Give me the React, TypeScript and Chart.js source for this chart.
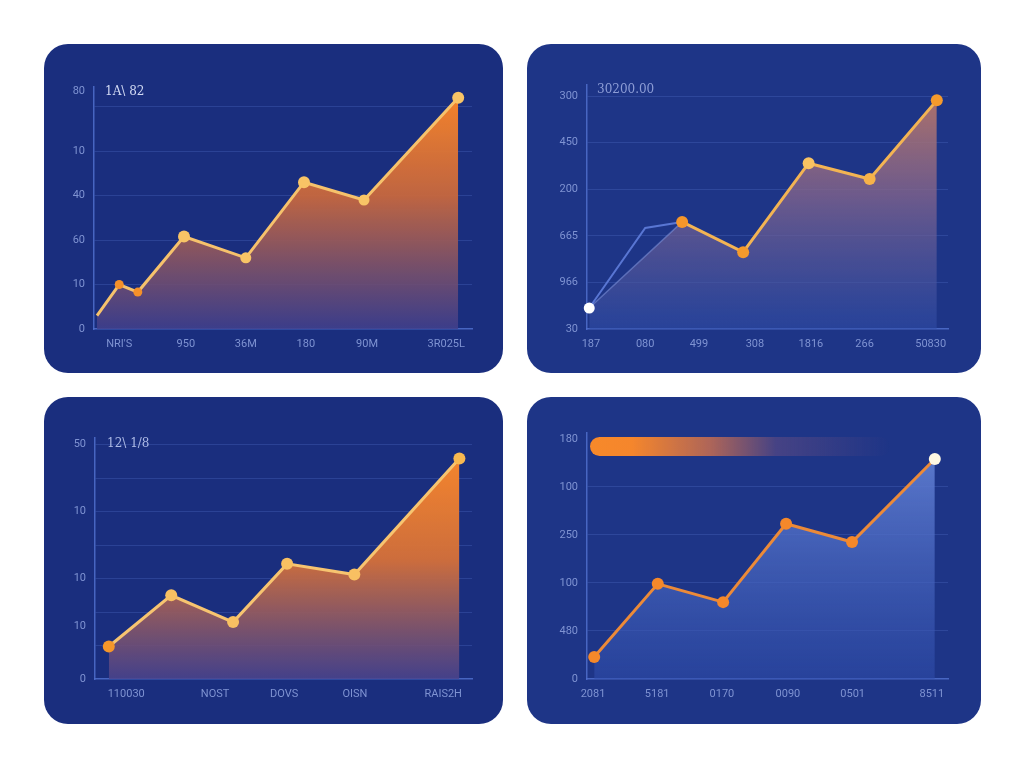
import React, { useEffect, useRef } from "react";
import { Chart, registerables } from "chart.js";

Chart.register(...registerables);

// top-left panel
const p1X = [0.05, 0.42, 0.73, 1.5, 2.53, 3.5, 4.5, 6.07];
const p1Y = [0.3, 1.0, 0.83, 2.08, 1.6, 3.3, 2.9, 5.2];
const p1XTicks = [0.42, 1.53, 2.53, 3.53, 4.55, 5.87];
const p1XLabels = ["NRI'S", "950", "36M", "180", "90M", "3R025L"];
const p1YTicks = [0, 1, 2, 3, 4, 5, 5.35];
const p1YLabels = ["0", "10", "60", "40", "10", "", "80"];
const p1YGrid = [false, true, true, true, true, true, false];

// top-right panel
const p2X = [0.04, 1.7, 2.79, 3.96, 5.05, 6.25];
const p2Y = [0.45, 2.3, 1.65, 3.56, 3.22, 4.91];
const p2BlueX = [0.04, 1.04, 1.7];
const p2BlueY = [0.45, 2.17, 2.3];
const p2XTicks = [0.07, 1.04, 2, 3, 4, 4.96, 6.14];
const p2XLabels = ["187", "080", "499", "308", "1816", "266", "50830"];
const p2YTicks = [0, 1, 2, 3, 4, 5];
const p2YLabels = ["30", "966", "665", "200", "450", "300"];
const p2YGrid = [false, true, true, true, true, true];

// bottom-left panel
const p3X = [0.23, 1.27, 2.3, 3.2, 4.32, 6.07];
const p3Y = [0.97, 2.5, 1.7, 3.44, 3.12, 6.59];
const p3XTicks = [0.52, 2.0, 3.15, 4.33, 5.8];
const p3XLabels = ["110030", "NOST", "DOVS", "OISN", "RAIS2H"];
const p3YTicks = [0, 1, 1.59, 2, 3, 4, 5, 6, 7];
const p3YLabels = ["0", "", "10", "", "10", "", "10", "", "50"];
const p3YGrid = [false, true, false, true, true, true, true, true, true];

// bottom-right panel
const p4X = [0.12, 1.18, 2.27, 3.32, 4.42, 5.8];
const p4Y = [0.46, 1.98, 1.6, 3.23, 2.85, 4.58];
const p4XTicks = [0.1, 1.17, 2.25, 3.35, 4.43, 5.75];
const p4XLabels = ["2081", "5181", "0170", "0090", "0501", "8511"];
const p4YTicks = [0, 1, 2, 3, 4, 5];
const p4YLabels = ["0", "480", "100", "250", "100", "180"];
const p4YGrid = [false, true, true, true, true, false];

const gridColor = "rgba(90,120,210,0.28)";
const axisColor = "rgba(80,110,205,0.85)";
const tickColor = "#7f93d2";

const pts = (xs: number[], ys: number[]) => xs.map((x, i) => ({ x, y: ys[i] }));

const vGradient = (stops: [number, string][]) => (ctx: any) => {
  const chart = ctx.chart;
  const ca = chart.chartArea;
  if (!ca) return "transparent";
  const g = chart.ctx.createLinearGradient(0, ca.top, 0, ca.bottom);
  stops.forEach(([o, c]) => g.addColorStop(o, c));
  return g;
};

type Area = { left: number; top: number; right: number; bottom: number };

type PanelProps = {
  left: number;
  top: number;
  width: number;
  height: number;
  bg: string;
  area: Area;
  xMax: number;
  yMax: number;
  xTicks: number[];
  xLabels: string[];
  yTicks: number[];
  yLabels: string[];
  yGrid: boolean[];
  datasets: any[];
  children?: React.ReactNode;
};

const Panel: React.FC<PanelProps> = (p) => {
  const canvasRef = useRef<HTMLCanvasElement>(null);

  useEffect(() => {
    if (!canvasRef.current) return;
    const chart = new Chart(canvasRef.current, {
      type: "line",
      data: { datasets: p.datasets },
      options: {
        responsive: false,
        animation: false,
        events: [],
        layout: {
          padding: { left: 0, top: p.area.top, right: p.width - p.area.right, bottom: 0 },
        },
        plugins: { legend: { display: false }, tooltip: { enabled: false } },
        scales: {
          x: {
            type: "linear",
            min: 0,
            max: p.xMax,
            afterFit: (s: any) => {
              s.height = p.height - p.area.bottom;
            },
            afterBuildTicks: (s: any) => {
              s.ticks = p.xTicks.map((v) => ({ value: v }));
            },
            grid: { display: false, drawTicks: false },
            border: { display: true, color: axisColor, width: 1.5 },
            ticks: {
              autoSkip: false,
              maxRotation: 0,
              padding: 9,
              color: tickColor,
              font: { family: "Roboto", size: 11 },
              callback: (_v: any, i: number) => p.xLabels[i],
            },
          },
          y: {
            type: "linear",
            min: 0,
            max: p.yMax,
            afterFit: (s: any) => {
              s.width = p.area.left;
            },
            afterBuildTicks: (s: any) => {
              s.ticks = p.yTicks.map((v) => ({ value: v }));
            },
            grid: {
              drawTicks: false,
              lineWidth: 1,
              color: (c: any) => (p.yGrid[c.index] ? gridColor : "transparent"),
            },
            border: { display: true, color: axisColor, width: 1.5 },
            ticks: {
              autoSkip: false,
              padding: 9,
              color: tickColor,
              font: { family: "Roboto", size: 11 },
              callback: (_v: any, i: number) => p.yLabels[i],
            },
          },
        },
      },
    });
    return () => chart.destroy();
  }, []);

  return (
    <div
      style={{
        position: "absolute",
        left: p.left,
        top: p.top,
        width: p.width,
        height: p.height,
        background: p.bg,
        borderRadius: 24,
        overflow: "hidden",
      }}
    >
      <canvas ref={canvasRef} width={p.width} height={p.height} style={{ position: "absolute", left: 0, top: 0 }} />
      {p.children}
    </div>
  );
};

const Caption: React.FC<{ x: number; y: number; color: string; text: string }> = ({ x, y, color, text }) => (
  <div
    style={{
      position: "absolute",
      left: x,
      top: y - 8,
      color,
      fontFamily: "DejaVu Serif",
      fontSize: 12,
      lineHeight: "16px",
      whiteSpace: "nowrap",
    }}
  >
    {text}
  </div>
);

const App: React.FC = () => {
  const d1 = [
    {
      data: pts(p1X, p1Y),
      borderColor: "#f6c26c",
      borderWidth: 3,
      tension: 0,
      fill: "origin",
      backgroundColor: vGradient([
        [0, "rgba(250,134,40,1)"],
        [0.45, "rgba(200,104,62,0.95)"],
        [1, "rgba(66,64,140,0.85)"],
      ]),
      pointRadius: [0, 4.5, 4.5, 6, 5.5, 6, 5.5, 6],
      pointBackgroundColor: ["#f5922a", "#f5902a", "#f5902a", "#f8c466", "#f8c466", "#f8c466", "#f8c466", "#f8c466"],
      pointBorderWidth: 0,
    },
  ];

  const d2 = [
    {
      // filled area, faint edge (visible only on the first segment)
      data: pts(p2X, p2Y),
      borderColor: "rgba(130,150,220,0.55)",
      borderWidth: 1.5,
      tension: 0,
      fill: "origin",
      backgroundColor: vGradient([
        [0, "rgba(190,120,100,0.95)"],
        [0.45, "rgba(130,100,140,0.8)"],
        [1, "rgba(48,78,168,0.55)"],
      ]),
      pointRadius: 0,
      clip: false,
      order: 4,
    },
    {
      data: pts(p2BlueX, p2BlueY),
      borderColor: "rgba(95,125,220,0.9)",
      borderWidth: 2,
      tension: 0,
      fill: false,
      pointRadius: 0,
      clip: false,
      order: 3,
    },
    {
      data: pts(p2X, p2Y).slice(1),
      borderColor: "#f3b453",
      borderWidth: 3,
      tension: 0,
      fill: false,
      pointRadius: 6,
      pointBackgroundColor: ["#f5962a", "#f59a2c", "#f8c262", "#f6b24a", "#f59a2c"],
      pointBorderWidth: 0,
      clip: false,
      order: 2,
    },
    {
      data: pts(p2X, p2Y).slice(0, 1),
      showLine: false,
      pointRadius: 5.5,
      pointBackgroundColor: "#ffffff",
      pointBorderWidth: 0,
      clip: false,
      order: 1,
    },
  ];

  const d3 = [
    {
      data: pts(p3X, p3Y),
      borderColor: "#f7c470",
      borderWidth: 3,
      tension: 0,
      fill: "origin",
      backgroundColor: vGradient([
        [0, "rgba(252,138,42,1)"],
        [0.5, "rgba(212,112,58,0.97)"],
        [1, "rgba(76,68,140,0.85)"],
      ]),
      pointRadius: 6,
      pointBackgroundColor: ["#f5962a", "#f8c062", "#f8c062", "#f8c062", "#f8c062", "#f8b850"],
      pointBorderWidth: 0,
    },
  ];

  const d4 = [
    {
      data: pts(p4X, p4Y),
      borderColor: "#ec8a38",
      borderWidth: 3,
      tension: 0,
      fill: "origin",
      backgroundColor: vGradient([
        [0, "rgba(102,132,214,0.95)"],
        [1, "rgba(48,78,172,0.55)"],
      ]),
      pointRadius: 6,
      pointBackgroundColor: ["#f5882a", "#f5882a", "#f5882a", "#f5882a", "#f5882a", "#fff8e2"],
      pointBorderWidth: 0,
    },
  ];

  return (
    <div style={{ position: "absolute", left: 0, top: 0, width: 1024, height: 768, background: "#ffffff" }}>
      <Panel
        left={44}
        top={44}
        width={459}
        height={329}
        bg="#1a2e7e"
        area={{ left: 50, top: 43, right: 428, bottom: 285 }}
        xMax={6.3}
        yMax={5.44}
        xTicks={p1XTicks}
        xLabels={p1XLabels}
        yTicks={p1YTicks}
        yLabels={p1YLabels}
        yGrid={p1YGrid}
        datasets={d1}
      >
        <Caption x={61} y={47} color="#d2daf4" text="1A\ 82" />
      </Panel>
      <Panel
        left={527}
        top={44}
        width={454}
        height={329}
        bg="#1e3587"
        area={{ left: 60, top: 41, right: 421, bottom: 285 }}
        xMax={6.45}
        yMax={5.24}
        xTicks={p2XTicks}
        xLabels={p2XLabels}
        yTicks={p2YTicks}
        yLabels={p2YLabels}
        yGrid={p2YGrid}
        datasets={d2}
      >
        <Caption x={70} y={45} color="#8d9dd6" text="30200.00" />
      </Panel>
      <Panel
        left={44}
        top={397}
        width={459}
        height={327}
        bg="#1a2e7e"
        area={{ left: 51, top: 41, right: 428, bottom: 282 }}
        xMax={6.28}
        yMax={7.2}
        xTicks={p3XTicks}
        xLabels={p3XLabels}
        yTicks={p3YTicks}
        yLabels={p3YLabels}
        yGrid={p3YGrid}
        datasets={d3}
      >
        <Caption x={63} y={46} color="#aebbe6" text="12\ 1/8" />
      </Panel>
      <Panel
        left={527}
        top={397}
        width={454}
        height={327}
        bg="#1e3587"
        area={{ left: 60, top: 36, right: 421, bottom: 282 }}
        xMax={6.02}
        yMax={5.12}
        xTicks={p4XTicks}
        xLabels={p4XLabels}
        yTicks={p4YTicks}
        yLabels={p4YLabels}
        yGrid={p4YGrid}
        datasets={d4}
      >
        <div
          style={{
            position: "absolute",
            left: 63,
            top: 40,
            width: 300,
            height: 19,
            borderRadius: 10,
            background:
              "linear-gradient(90deg, #f7892a 0%, #f5862c 14%, rgba(200,110,80,0.85) 40%, rgba(110,80,130,0.5) 62%, rgba(40,60,150,0) 100%)",
          }}
        />
      </Panel>
    </div>
  );
};

export default App;
